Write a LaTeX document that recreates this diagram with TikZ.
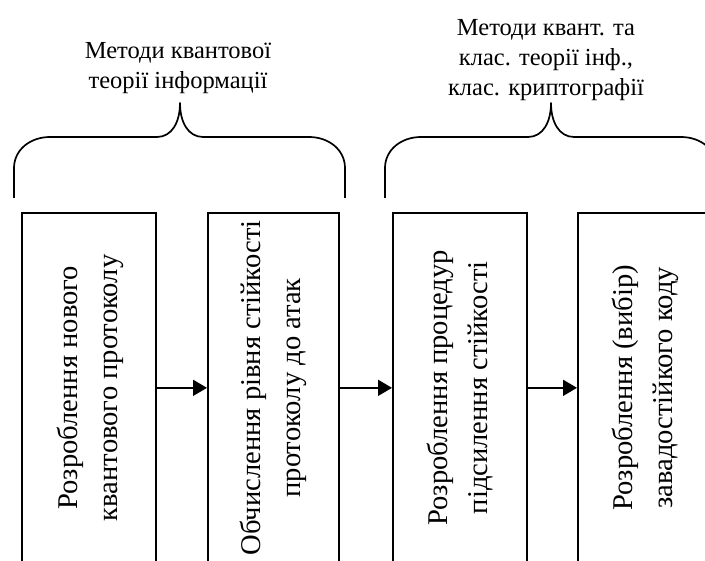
\documentclass[tikz,border=0pt]{standalone}
\usepackage{fontspec}
\setmainfont{Liberation Serif}
\usetikzlibrary{arrows.meta}
\begin{document}
\begin{tikzpicture}[x=1pt,y=-1pt,line width=1.7pt,
  stepbox/.style={draw,minimum width=134pt,minimum height=350pt,inner sep=0pt,anchor=north west},
  boxtext/.style={rotate=90,align=center,inner sep=0pt,font=\fontsize{28.6}{40}\selectfont},
  toplabel/.style={align=center,inner sep=0pt,font=\fontsize{24.5}{30}\selectfont},
  arr/.style={-{Triangle[length=14pt,width=16pt]}},
  brace/.style={line join=round}]
\clip (0,0) rectangle (705,561);
\useasboundingbox (0,0) rectangle (705,561);
\node[stepbox] (b1) at (21,212) {};
\node[stepbox,minimum width=131pt] (b2) at (207,212) {};
\node[stepbox] (b3) at (392,212) {};
\node[stepbox] (b4) at (577,212) {};
\node[boxtext] (t1) at ([xshift=1pt]b1.center) {Розроблення нового\\квантового протоколу};
\node[boxtext] (t2) at (b2.center) {Обчислення рівня стійкості\\протоколу до атак};
\node[boxtext] (t3) at (b3.center) {Розроблення процедур\\підсилення стійкості};
\node[boxtext] (t4) at (b4.center) {Розроблення (вибір)\\завадостійкого коду};
\draw[arr] (b1.east) -- (b2.west);
\draw[arr] (b2.east) -- (b3.west);
\draw[arr] (b3.east) -- (b4.west);
\draw[brace] (14,198) -- (14,168) .. controls (14,150) and (30,137) .. (50,137) -- (157,137)
  .. controls (172,137) and (180,122) .. (180,103) .. controls (180,122) and (188,137) .. (203,137)
  -- (309,137) .. controls (329,137) and (345,150) .. (345,168) -- (345,198);
\draw[brace] (385,198) -- (385,168) .. controls (385,150) and (401,137) .. (421,137) -- (528,137)
  .. controls (543,137) and (551,122) .. (551,103) .. controls (551,122) and (559,137) .. (574,137)
  -- (681,137) .. controls (701,137) and (717,150) .. (717,168) -- (717,198);
\node[toplabel] (l1) at (178,68) {Методи квантової\\теорії інформації};
\node[toplabel] (l2) at (546,60) {Методи квант. та\\клас. теорії інф.,\\клас. криптографії};
\end{tikzpicture}
\end{document}
